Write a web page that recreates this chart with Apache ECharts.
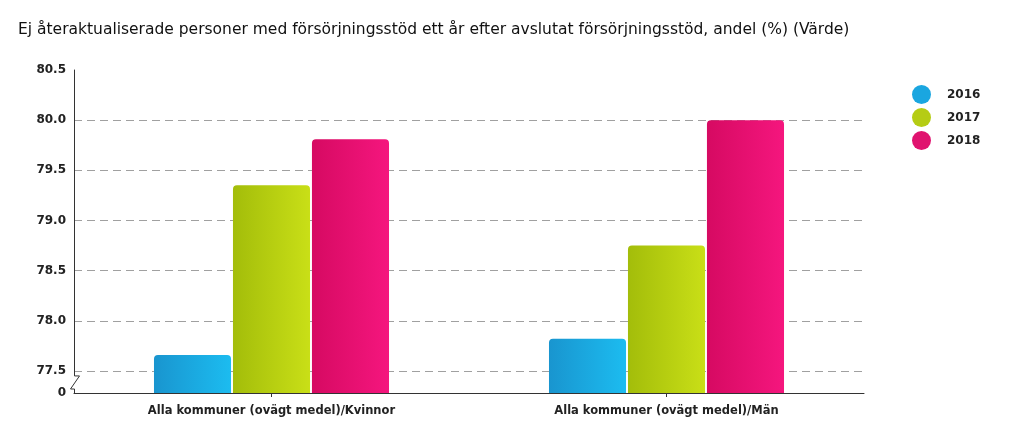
<!DOCTYPE html>
<html><head><meta charset="utf-8">
<script src="https://cdn.jsdelivr.net/npm/echarts@6/dist/echarts.min.js"></script>
<style>html,body{margin:0;padding:0;background:#fff}#c{width:1023px;height:447px}</style>
</head><body><div id="c"></div>
<script>
var titleText = 'Ej återaktualiserade personer med försörjningsstöd ett år efter avslutat försörjningsstöd, andel (%) (Värde)';
var categories = ['Alla kommuner (ovägt medel)/Kvinnor', 'Alla kommuner (ovägt medel)/Män'];
var seriesNames = ['2016', '2017', '2018'];
var values2016 = [77.66, 77.82];
var values2017 = [79.35, 78.75];
var values2018 = [79.81, 80.0];
var yMin = 77.28;
var yMax = 80.5;
var gridValues = [77.5, 78.0, 78.5, 79.0, 79.5, 80.0];
var labelValues = [77.28, 77.5, 78.0, 78.5, 79.0, 79.5, 80.0, 80.5];

var colors = [
  ['#1995cf', '#1cbcf0', '#1aa6e0'],
  ['#a3bd0a', '#c9df17', '#b5cc14'],
  ['#d60a62', '#f5167e', '#e0136f']
];
function grad(c){
  return new echarts.graphic.LinearGradient(0,0,1,0,[{offset:0,color:c[0]},{offset:1,color:c[1]}]);
}
var allValues = [values2016, values2017, values2018];
var chart = echarts.init(document.getElementById('c'), null, {renderer:'canvas'});
var series = seriesNames.map(function(n,i){
  return {
    name:n, type:'bar', data: allValues[i],
    barGap:'2.5%', barCategoryGap:'40.5%',
    itemStyle:{color:grad(colors[i]), borderRadius:[4,4,0,0]}
  };
});
chart.setOption({
  animation:false,
  title:{text:titleText, left:13, top:17, textStyle:{fontFamily:'DejaVu Sans', fontSize:15.5, fontWeight:'normal', color:'#111'}},
  legend:{
    orient:'vertical', left:907, top:80, itemWidth:19, itemHeight:19, itemGap:4, icon:'circle',
    textStyle:{fontFamily:'DejaVu Sans', fontWeight:'bold', fontSize:12, color:'#222', padding:[0,0,0,11]},
    data: seriesNames.map(function(n,i){return {name:n, itemStyle:{color:colors[i][2]}};})
  },
  grid:{left:74, right:159, top:70, bottom:54, containLabel:false},
  xAxis:{
    type:'category', data:categories,
    axisLine:{lineStyle:{color:'#333', width:1}},
    axisTick:{show:true, alignWithLabel:true, length:4, lineStyle:{color:'#333'}},
    axisLabel:{fontFamily:'DejaVu Sans', fontWeight:'bold', fontSize:11.5, color:'#222', margin:12}
  },
  yAxis:{
    type:'value', min:yMin, max:yMax,
    axisLine:{show:true, lineStyle:{color:'#333', width:1}},
    axisTick:{show:false, customValues:gridValues},
    splitLine:{show:true, lineStyle:{color:'#a0a0a0', type:[8,5], width:1}},
    axisLabel:{customValues:labelValues, fontFamily:'DejaVu Sans', fontWeight:'bold', fontSize:12, color:'#222', margin:8,
      formatter:function(v){ return Math.abs(v-yMin)<1e-6 ? '0' : v.toFixed(1); }}
  },
  series:series
});
// axis break mark
var p0 = chart.convertToPixel({yAxisIndex:0}, yMin);
var p1 = chart.convertToPixel({yAxisIndex:0}, 77.5);
var x0 = chart.convertToPixel({xAxisIndex:0}, 0) - (chart.convertToPixel({xAxisIndex:0}, 1) - chart.convertToPixel({xAxisIndex:0}, 0)) / 2;
x0 = Math.round(x0) + 0.5;
var ya = p1 + 5, yb = p0 - 4;
chart.setOption({graphic:[
  {type:'rect', shape:{x:x0-2, y:ya, width:4, height:yb-ya}, style:{fill:'#fff'}, z:100},
  {type:'polyline', shape:{points:[[x0,ya],[x0+5,ya],[x0-4,yb],[x0,yb]]}, style:{stroke:'#333', lineWidth:1, fill:null}, z:101}
]});
</script>
</body></html>
